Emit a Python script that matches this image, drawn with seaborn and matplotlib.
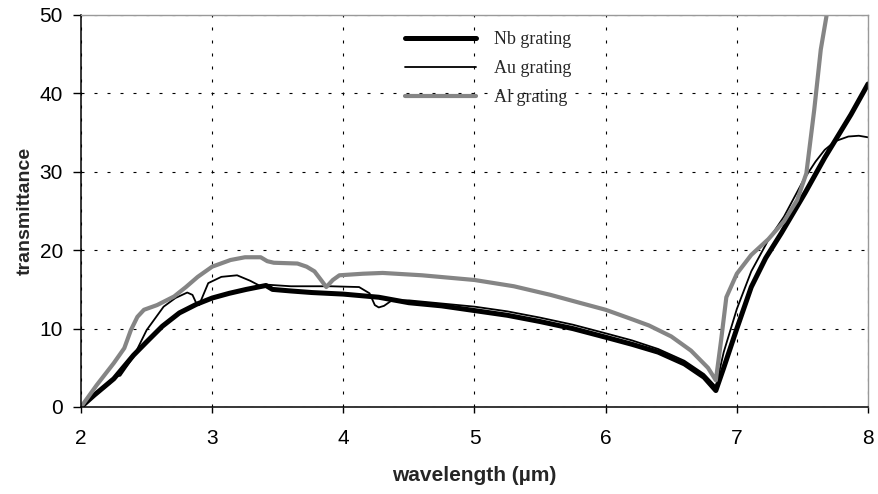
"""
Transmittance of Nb, Au and Al gratings vs wavelength
"""

import numpy as np
import pandas as pd
import matplotlib
matplotlib.use("Agg")
import matplotlib.pyplot as plt
import seaborn as sns

# Nb grating (thick black)
nb_x = [2.0, 2.1, 2.25, 2.4, 2.5, 2.62, 2.75, 2.88, 3.0, 3.13, 3.26, 3.35, 3.41, 3.46,
        3.6, 3.76, 4.0, 4.27, 4.5, 4.75, 5.0, 5.25, 5.5, 5.75, 6.0, 6.2, 6.4, 6.6,
        6.75, 6.84, 6.9, 7.0, 7.11, 7.22, 7.34, 7.52, 7.67, 7.87, 8.0]
nb_y = [0, 1.5, 3.6, 6.6, 8.3, 10.3, 12.0, 13.1, 13.9, 14.5, 15.0, 15.3, 15.5, 15.0,
        14.8, 14.6, 14.4, 14.0, 13.3, 12.9, 12.3, 11.7, 10.9, 10.0, 8.9, 8.0, 7.0, 5.5,
        3.8, 2.1, 5.0, 10.0, 15.3, 19.0, 22.2, 27.3, 31.8, 37.3, 41.2]

# Au grating (thin black)
au_x = [2.0, 2.1, 2.22, 2.25, 2.3, 2.4, 2.5, 2.63, 2.72, 2.81, 2.85, 2.88, 2.9, 2.93,
        2.97, 3.07, 3.19, 3.29, 3.37, 3.42, 3.6, 3.9, 4.12, 4.2, 4.24, 4.27, 4.31, 4.37,
        4.5, 4.75, 5.0, 5.25, 5.5, 5.75, 6.0, 6.2, 6.4, 6.6, 6.75, 6.84, 6.9, 7.0,
        7.11, 7.24, 7.36, 7.51, 7.6, 7.67, 7.75, 7.85, 7.93, 8.0]
au_y = [0, 1.4, 3.0, 3.8, 4.0, 6.4, 9.8, 12.8, 13.9, 14.6, 14.3, 13.2, 13.0, 14.2,
        15.8, 16.6, 16.8, 16.1, 15.4, 15.6, 15.4, 15.4, 15.3, 14.5, 13.0, 12.7, 12.9, 13.6,
        13.6, 13.2, 12.8, 12.2, 11.4, 10.5, 9.4, 8.5, 7.4, 5.9, 4.2, 2.6, 7.0, 12.5,
        17.3, 21.3, 24.3, 29.0, 31.3, 32.8, 33.9, 34.5, 34.6, 34.4]

# Al grating (gray)
al_x = [2.0, 2.12, 2.25, 2.33, 2.38, 2.43, 2.48, 2.58, 2.71, 2.8, 2.89, 3.0, 3.14,
        3.25, 3.37, 3.42, 3.47, 3.65, 3.72, 3.78, 3.83, 3.87, 3.92, 3.97, 4.15, 4.3,
        4.6, 5.0, 5.3, 5.58, 5.8, 6.0, 6.2, 6.33, 6.5, 6.65, 6.78, 6.84, 6.88, 6.92,
        7.0, 7.11, 7.24, 7.36, 7.46, 7.53, 7.59, 7.64, 7.69, 7.72]
al_y = [0, 2.8, 5.6, 7.5, 9.8, 11.5, 12.4, 13.0, 14.1, 15.3, 16.6, 17.9, 18.75,
        19.1, 19.1, 18.6, 18.4, 18.3, 17.9, 17.3, 16.2, 15.3, 16.2, 16.8, 17.0, 17.1,
        16.8, 16.2, 15.4, 14.3, 13.3, 12.4, 11.2, 10.4, 9.0, 7.2, 5.0, 3.4, 8.5, 14.0,
        17.0, 19.4, 21.4, 23.7, 26.4, 29.8, 37.9, 45.6, 50.5, 53.0]

x_ticks = [2, 3, 4, 5, 6, 7, 8]
y_ticks = [0, 10, 20, 30, 40, 50]

sns.set_theme(style="white")
plt.rcParams["font.family"] = ["Liberation Sans", "DejaVu Sans"]

fig = plt.figure(figsize=(8.79, 4.94), dpi=100)
ax = fig.add_axes([81 / 879, 1 - 407 / 494, 787 / 879, 392 / 494])

series = [
    ("Nb grating", nb_x, nb_y, "black", 3.6),
    ("Au grating", au_x, au_y, "black", 1.3),
    ("Al grating", al_x, al_y, "#858585", 3.0),
]
for name, xs, ys, color, lw in series:
    df = pd.DataFrame({"wavelength": xs, "transmittance": ys})
    sns.lineplot(data=df, x="wavelength", y="transmittance", ax=ax, color=color,
                 linewidth=lw, label=name, sort=False, estimator=None)

ax.set_xlim(2, 8)
ax.set_ylim(0, 50)
ax.set_xticks(x_ticks)
ax.set_yticks(y_ticks)
ax.grid(True, color="black", linestyle=(0, (2.7, 9)), linewidth=0.8)

for side in ["left", "bottom"]:
    ax.spines[side].set_color("black")
    ax.spines[side].set_linewidth(1.1)
for side in ["top", "right"]:
    ax.spines[side].set_color("#999999")
    ax.spines[side].set_linewidth(1.0)

ax.tick_params(axis="y", direction="out", length=5.5, width=1, pad=7.5,
               labelsize=15, left=True, colors="black")
ax.tick_params(axis="x", direction="out", length=4, width=1, pad=12,
               labelsize=15, bottom=True, colors="black")

ax.set_xlabel("wavelength (\u00b5m)", fontsize=15, fontweight="bold", labelpad=13)
ax.set_ylabel("transmittance", fontsize=14, fontweight="bold", labelpad=4)

leg = ax.legend(loc="upper left", bbox_to_anchor=(0.412, 0.959), frameon=False,
                borderpad=0, borderaxespad=0, handlelength=3.9, handletextpad=1.0,
                labelspacing=0.67, prop={"family": "Liberation Serif", "size": 13})

fig.savefig("out.png", dpi=100)
plt.close(fig)
